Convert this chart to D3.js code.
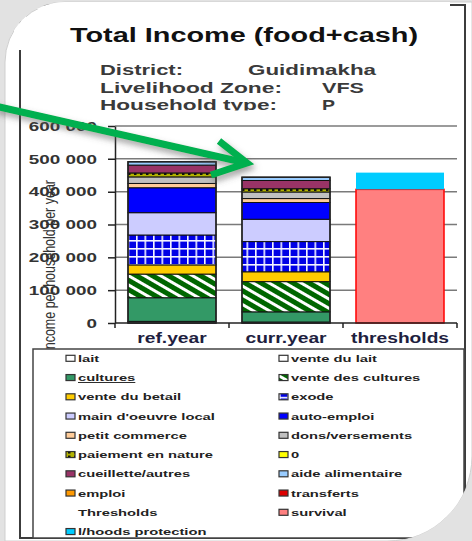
<!DOCTYPE html>
<html>
<head>
<meta charset="utf-8">
<script src="https://cdn.jsdelivr.net/npm/d3@7"></script>
<style>
body { margin: 0; background: #d4d4d4; }
svg { display: block; font-family: "Liberation Sans", Arial, sans-serif; }
</style>
</head>
<body>
<div id="chart"></div>
<script>
// ---- data ----
const categories = ["ref.year", "curr.year", "thresholds"];
const seriesNames = ["lait", "vente du lait", "cultures", "vente des cultures", "vente du betail", "exode",
  "main d'oeuvre local", "auto-emploi", "petit commerce", "dons/versements", "paiement en nature", "0",
  "cueillette/autres", "aide alimentaire", "emploi", "transferts"];
const refYear  = [5000, 0, 72000, 72000, 28000, 91000, 68000, 76000, 13000, 20000, 12000, 0, 24000, 10000, 0, 0];
const currYear = [3000, 0, 31000, 92000, 30000, 92000, 68000, 51000, 12000, 20000, 10000, 0, 25000, 10000, 0, 0];
const thresholdNames = ["survival", "l/hoods protection"];
const thresholdValues = [407000, 51000];
const yTicks = [0, 100000, 200000, 300000, 400000, 500000, 600000];

const W = 472, H = 541;
const fills = {
  "lait": "#ffffff", "vente du lait": "#ffffff", "cultures": "#339966", "vente des cultures": "url(#hatch)",
  "vente du betail": "#ffcc00", "exode": "url(#grid)", "main d'oeuvre local": "#ccccff", "auto-emploi": "#0000ff",
  "petit commerce": "#ffcc99", "dons/versements": "#c0c0c0", "paiement en nature": "url(#dots)", "0": "#ffff00",
  "cueillette/autres": "#993366", "aide alimentaire": "#99ccff", "emploi": "#ff9900", "transferts": "#dd0000",
  "survival": "#ff8080", "l/hoods protection": "#00ccff"
};

const svg = d3.select("#chart").append("svg").attr("width", W).attr("height", H);
const defs = svg.append("defs");

// patterns
let p = defs.append("pattern").attr("id", "hatch").attr("patternUnits", "userSpaceOnUse")
  .attr("width", 8).attr("height", 8).attr("patternTransform", "rotate(-60)");
p.append("rect").attr("width", 8).attr("height", 8).attr("fill", "#006600");
p.append("rect").attr("width", 3).attr("height", 8).attr("fill", "#ffffff");
p = defs.append("pattern").attr("id", "grid").attr("patternUnits", "userSpaceOnUse").attr("width", 8.5).attr("height", 8);
p.append("rect").attr("width", 8.5).attr("height", 8).attr("fill", "#0000e6");
p.append("rect").attr("width", 1.6).attr("height", 8).attr("fill", "#f4f4ff");
p.append("rect").attr("width", 8.5).attr("height", 1.6).attr("fill", "#f4f4ff");
p = defs.append("pattern").attr("id", "dots").attr("patternUnits", "userSpaceOnUse").attr("width", 6).attr("height", 4);
p.append("rect").attr("width", 6).attr("height", 4).attr("fill", "#b3b300");
p.append("rect").attr("x", 2).attr("y", 1).attr("width", 2.5).attr("height", 2).attr("fill", "#111");

// card shape (rounded top-left and bottom-right)
const cardPath = "M5,62 A60,60 0 0 1 65,2 L472,2 L472,456 A85,85 0 0 1 387,541 L5,541 Z";
defs.append("clipPath").attr("id", "card").append("path").attr("d", cardPath);
defs.append("clipPath").attr("id", "subclip").append("rect").attr("x", 0).attr("y", 0).attr("width", W).attr("height", 110.5);
const sh = defs.append("filter").attr("id", "shadow").attr("x", "-20%").attr("y", "-20%").attr("width", "140%").attr("height", "160%");
sh.append("feDropShadow").attr("dx", 2).attr("dy", 4).attr("stdDeviation", 3).attr("flood-color", "#555").attr("flood-opacity", 0.55);

svg.append("rect").attr("width", W).attr("height", H).attr("fill", "#e2e2e2");
svg.append("path").attr("d", cardPath).attr("fill", "#ffffff").attr("stroke", "#cfcfcf");

const inner = svg.append("g").attr("clip-path", "url(#card)");
// chart object frame
inner.append("rect").attr("x", 20).attr("y", 5).attr("width", 445).attr("height", 533)
  .attr("fill", "none").attr("stroke", "#3c3c3c").attr("stroke-width", 2);
inner.append("rect").attr("x", 14).attr("y", 3).attr("width", 12).attr("height", 47).attr("fill", "#fff");
inner.append("rect").attr("x", 14).attr("y", 1).attr("width", 436).attr("height", 8).attr("fill", "#fff");

function stretch(sel, ratio) {
  sel.each(function() {
    const w = this.getComputedTextLength();
    d3.select(this).attr("textLength", w * ratio).attr("lengthAdjust", "spacingAndGlyphs");
  });
}

// title
inner.append("text").attr("x", 244).attr("y", 42).attr("text-anchor", "middle")
  .style("font-size", "20px").style("font-weight", "bold").attr("fill", "#111")
  .text("Total Income (food+cash)").attr("textLength", 348).attr("lengthAdjust", "spacingAndGlyphs");

const sub = inner.append("g").attr("clip-path", "url(#subclip)")
  .style("font-size", "14px").style("font-weight", "bold").attr("fill", "#3a3a3a");
[["District:", 100, 75, 83], ["Guidimakha", 248, 75, 128], ["Livelihood Zone:", 100, 92.5, 182],
 ["VFS", 322, 92.5, 42], ["Household type:", 100, 110, 177], ["P", 322, 110, 13]].forEach(d => {
  sub.append("text").attr("x", d[1]).attr("y", d[2]).text(d[0])
    .attr("textLength", d[3]).attr("lengthAdjust", "spacingAndGlyphs");
});

// scales
const x = d3.scaleBand().domain(categories).range([115, 457]).paddingInner(0.228).paddingOuter(0.114);
const y = d3.scaleLinear().domain([0, 600000]).range([323, 126]);
const fmt = d3.formatLocale({decimal: ",", thousands: " ", grouping: [3], currency: ["", ""]}).format(",d");

// gridlines
inner.append("g").selectAll("line").data(yTicks.slice(1)).join("line")
  .attr("x1", 115).attr("x2", 457).attr("y1", d => y(d)).attr("y2", d => y(d))
  .attr("stroke", "#7a7a7a").attr("stroke-width", 1.5);

// stacked bars
const keys = seriesNames.concat(thresholdNames);
const rows = categories.map((c, i) => {
  const r = {cat: c};
  seriesNames.forEach((s, j) => r[s] = i === 0 ? refYear[j] : i === 1 ? currYear[j] : 0);
  thresholdNames.forEach((s, j) => r[s] = i === 2 ? thresholdValues[j] : 0);
  return r;
});
const stacked = d3.stack().keys(keys)(rows);
inner.append("g").selectAll("g").data(stacked).join("g")
  .attr("fill", d => fills[d.key])
  .attr("stroke", d => d.key === "survival" ? "#ff0000" : d.key === "l/hoods protection" ? "none" : "#111")
  .attr("stroke-width", d => d.key === "survival" ? 1.5 : 1)
  .selectAll("rect").data(d => d.filter(v => v[1] - v[0] > 0)).join("rect")
  .attr("x", d => x(d.data.cat)).attr("width", x.bandwidth())
  .attr("y", d => y(d[1])).attr("height", d => y(d[0]) - y(d[1]));

// outline of income bars
inner.append("g").selectAll("rect").data(stacked[seriesNames.length - 1].filter(v => v[1] > 0)).join("rect")
  .attr("x", d => x(d.data.cat)).attr("width", x.bandwidth())
  .attr("y", d => y(d[1])).attr("height", d => y(0) - y(d[1]))
  .attr("fill", "none").attr("stroke", "#222").attr("stroke-width", 1.5);

// y axis
const ya = inner.append("g").attr("transform", "translate(115,0)")
  .call(d3.axisLeft(y).tickValues(yTicks).tickFormat(fmt).tickSize(7).tickSizeOuter(0).tickPadding(11));
ya.selectAll("path,line").attr("stroke", "#222").attr("stroke-width", 1.5);
ya.selectAll("text").style("font-size", "13px").style("font-weight", "bold").attr("fill", "#333")
  .style("font-family", "Liberation Sans, Arial");
stretch(ya.selectAll("text"), 1.45);

// x axis
const xa = inner.append("g").attr("transform", "translate(0,323)")
  .call(d3.axisBottom(x).tickSize(0).tickPadding(9.7));
xa.select(".domain").remove();
xa.selectAll("text").style("font-size", "14px").style("font-weight", "bold").attr("fill", "#1e1e40")
  .style("font-family", "Liberation Sans, Arial");
stretch(xa.selectAll("text"), 1.37);
inner.append("line").attr("x1", 115).attr("x2", 457).attr("y1", 323).attr("y2", 323)
  .attr("stroke", "#222").attr("stroke-width", 1.5);
const gap = x.step() * x.paddingInner() / 2;
inner.append("g").selectAll("line").data(categories.concat(["end"])).join("line")
  .attr("x1", (d, i) => i < 3 ? x(d) - gap : x(categories[2]) + x.bandwidth() + gap)
  .attr("x2", (d, i) => i < 3 ? x(d) - gap : x(categories[2]) + x.bandwidth() + gap)
  .attr("y1", 323).attr("y2", 328).attr("stroke", "#222").attr("stroke-width", 1.5);

// y axis title
inner.append("text").attr("transform", "translate(55,180) rotate(-90) scale(1,1.35)")
  .attr("text-anchor", "end").style("font-size", "12.5px").attr("fill", "#333")
  .text("Income per household per year");

// legend
const lg = inner.append("g");
lg.append("rect").attr("x", 33).attr("y", 349).attr("width", 431).attr("height", 189)
  .attr("fill", "#fff").attr("stroke", "#444").attr("stroke-width", 1.5);
const legendItems = seriesNames.concat(["Thresholds"], thresholdNames);
const li = lg.selectAll("g.item").data(legendItems).join("g").attr("class", "item")
  .attr("transform", (d, i) => `translate(${i % 2 === 0 ? 66 : 279},${358.3 + Math.floor(i / 2) * 19.25})`);
li.filter(d => d !== "Thresholds").append("rect").attr("x", 0).attr("y", -3).attr("width", 9).attr("height", 6)
  .attr("fill", d => fills[d]).attr("stroke", "#333").attr("stroke-width", 1.2);
li.append("text").attr("x", 12).attr("y", 3.5).style("font-size", "9.5px").style("font-weight", "bold")
  .attr("fill", "#222").attr("text-decoration", d => d === "cultures" ? "underline" : null).text(d => d);
stretch(li.selectAll("text"), 1.55);

// green arrow
const ar = svg.append("g").attr("filter", "url(#shadow)").attr("stroke", "#00b050").attr("fill", "none")
  .attr("stroke-width", 7);
ar.append("line").attr("x1", -5).attr("y1", 106).attr("x2", 244).attr("y2", 162.5);
ar.append("path").attr("d", "M219,141 L247,163 L211,175").attr("stroke-linejoin", "miter");
</script>
</body>
</html>
